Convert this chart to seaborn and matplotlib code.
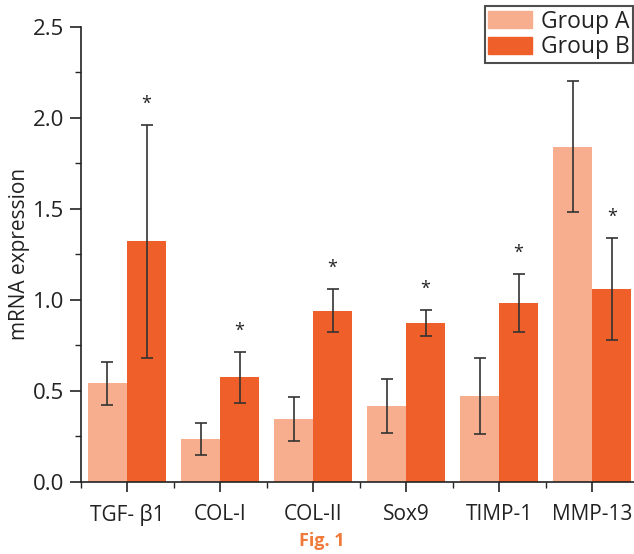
import numpy as np
import pandas as pd
import matplotlib
matplotlib.use('Agg')
import matplotlib.pyplot as plt
from matplotlib.ticker import MultipleLocator, FixedLocator
import seaborn as sns

# data
genes = ['TGF- β1', 'COL-I', 'COL-II', 'Sox9', 'TIMP-1', 'MMP-13']
groups = ['Group A', 'Group B']
mean_a = [0.54, 0.235, 0.345, 0.415, 0.47, 1.84]
sd_a = [0.12, 0.09, 0.12, 0.15, 0.21, 0.36]
mean_b = [1.32, 0.575, 0.94, 0.872, 0.98, 1.06]
sd_b = [0.64, 0.14, 0.12, 0.07, 0.16, 0.28]
signif_b = [True, True, True, True, True, True]

colors = ['#F6AE8E', '#EF5F2A']

df = pd.DataFrame({
    'gene': genes * 2,
    'group': [groups[0]] * len(genes) + [groups[1]] * len(genes),
    'value': mean_a + mean_b,
})

sns.set_style('ticks')
plt.rcParams['font.family'] = ['Open Sans', 'DejaVu Sans']

fig = plt.figure(figsize=(6.34, 5.54), dpi=100)
ax = fig.add_axes([0.127, 0.1305, 0.873, 0.8213])

sns.barplot(data=df, x='gene', y='value', hue='group', order=genes, hue_order=groups,
            palette=colors, width=0.84, gap=0, errorbar=None, saturation=1,
            linewidth=0, edgecolor='none', ax=ax, legend=False)

# error bars at the bar centres
off = 0.21
xs = np.arange(len(genes))
ekw = dict(fmt='none', ecolor='#333333', elinewidth=1.2, capsize=4, capthick=1.2)
ax.errorbar(xs - off, mean_a, yerr=sd_a, **ekw)
ax.errorbar(xs + off, mean_b, yerr=sd_b, **ekw)

for x, m, s, sig in zip(xs + off, mean_b, sd_b, signif_b):
    if sig:
        ax.text(x, m + s + 0.115, '*', ha='center', va='center', fontsize=13, color='#222222')

ax.set_xlim(-0.5, 5.45)
ax.set_ylim(0, 2.5)
ax.yaxis.set_minor_locator(MultipleLocator(0.25))
ax.set_yticks([0, 0.5, 1.0, 1.5, 2.0, 2.5])
ax.set_yticklabels(['0.0', '0.5', '1.0', '1.5', '2.0', '2.5'])
ax.xaxis.set_minor_locator(FixedLocator(np.arange(-0.5, 5.5, 1.0)))

ax.tick_params(axis='both', which='major', color='#222222', labelcolor='#222222', width=1.2)
ax.tick_params(axis='y', which='major', length=8, labelsize=16, pad=4)
ax.tick_params(axis='y', which='minor', length=4, width=1.0)
ax.tick_params(axis='x', which='major', length=7, labelsize=15, pad=9)
ax.tick_params(axis='x', which='minor', length=4, width=1.0)

ax.set_xlabel('')
ax.set_ylabel('mRNA expression', fontsize=15, color='#222222', labelpad=1.5)

for side in ['top', 'right']:
    ax.spines[side].set_visible(False)
for side in ['left', 'bottom']:
    ax.spines[side].set_linewidth(1.2)
    ax.spines[side].set_color('#222222')

handles = [plt.Rectangle((0, 0), 1, 1, color=c) for c in colors]
leg = ax.legend(handles, groups, loc='upper right', bbox_to_anchor=(0.998, 1.045),
                fontsize=16.5, frameon=True, fancybox=False, edgecolor='#222222',
                handlelength=1.9, handleheight=0.75, borderpad=0.15, labelspacing=0.08,
                handletextpad=0.4, borderaxespad=0)
leg.get_frame().set_linewidth(1.5)
for t in leg.get_texts():
    t.set_color('#222222')

fig.text(0.508, 0.023, 'Fig. 1', ha='center', va='center', fontsize=13,
         fontweight='bold', color='#F07A3A')

fig.savefig('out.png', dpi=100)
